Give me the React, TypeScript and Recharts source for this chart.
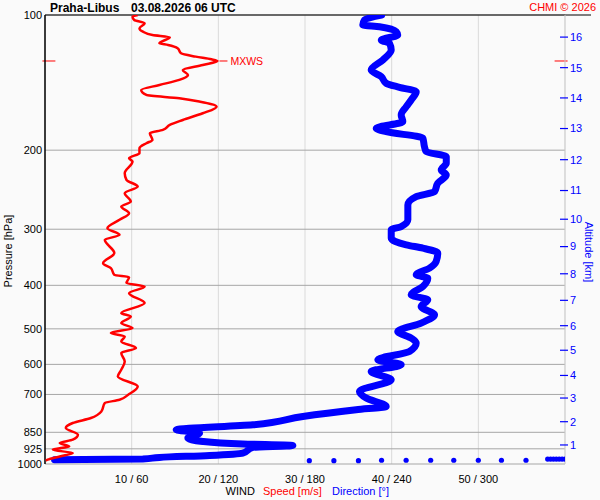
import React from 'react'
import { ScatterChart, Scatter, XAxis, YAxis, CartesianGrid, ReferenceLine } from 'recharts'

// pressure axis (hPa)
const pressureTicks = [100, 200, 300, 400, 500, 600, 700, 850, 925, 1000]
// bottom axis: speed m/s / direction deg
const speedTicks = [10, 20, 30, 40, 50]
const speedTickLabels = ['10 / 60', '20 / 120', '30 / 180', '40 / 240', '50 / 300']
// right axis: altitude ticks and the pressure level where each one sits
const altitudeKm = [1, 2, 3, 4, 5, 6, 7, 8, 9, 10, 11, 12, 13, 14, 15, 16]
const altitudeLevels = [907, 805, 713, 635, 558, 492, 432, 377, 328, 285, 246, 210, 179, 153, 131, 112]

// wind speed profile
const speedLevels = [
  100, 100.9, 102.6, 104.3, 107.1, 108.9, 110.8, 112.1, 115.6, 116.6,
  118.6, 121.7, 123.8, 125.5, 126.6, 129.2, 132.6, 136.0, 139.5, 143.2,
  146.9, 150.7, 153.3, 155.9, 160.0, 165.5, 171.3, 175.7, 180.3, 183.4,
  189.8, 193.0, 198.0, 203.1, 208.4, 212.1, 225.1, 232.9, 241.1, 249.4,
  260.3, 267.1, 276.3, 285.9, 298.4, 308.8, 316.8, 339.1, 357.0, 366.3,
  379.0, 383.6, 395.5, 402.5, 416.4, 438.2, 461.3, 469.4, 485.5, 498.1,
  511.1, 520.0, 533.5, 551.9, 566.2, 591.1, 616.8, 638.4, 671.9, 701.1,
  719.3, 731.6, 763.8, 790.0, 810.5, 831.6, 860.6, 882.9, 898.0, 913.8,
  929.4, 945.3, 961.9, 978.3, 983.3,
]
const speedMs = [
  10.7, 10.1, 10.3, 11.5, 10.9, 11.3, 12.4, 14.4, 13.2, 14.2,
  15.3, 15.7, 17.4, 19.2, 19.9, 18.2, 15.9, 16.5, 15.5, 13.2,
  11.1, 11.7, 15.5, 17.8, 19.8, 18.2, 15.9, 14.4, 13.6, 12.1,
  12.4, 11.7, 10.9, 10.9, 9.7, 10.1, 9.2, 9.4, 10.7, 9.2,
  9.9, 8.8, 9.7, 8.6, 7.2, 8.6, 6.9, 8.0, 6.7, 7.6,
  8.0, 9.7, 9.4, 11.5, 9.7, 11.5, 8.8, 9.9, 8.8, 10.1,
  7.6, 9.2, 8.8, 10.5, 8.8, 9.2, 8.8, 8.4, 10.7, 9.6,
  8.6, 6.9, 6.5, 5.3, 3.2, 2.4, 3.8, 3.2, 1.7, 2.8,
  0.9, 3.2, 1.7, 0.3, 0.1,
]

// wind direction profile
const dirLevels = [
  100, 102.6, 105.3, 106.2, 108.9, 110.8, 113.7, 115.6, 119.7, 125.9,
  132.6, 137.2, 141.9, 144.9, 148.2, 154.6, 160.0, 166.9, 172.8, 178.7,
  181.9, 188.1, 196.4, 201.5, 206.7, 213.8, 221.3, 227.1, 236.9, 247.3,
  253.8, 264.8, 285.9, 295.9, 301.0, 314.1, 325.0, 330.6, 339.1, 354.1,
  366.3, 379.0, 385.5, 402.5, 420.0, 430.9, 445.9, 465.3, 485.5, 506.9,
  524.3, 537.9, 561.6, 586.0, 601.2, 622.2, 649.2, 689.3, 713.1, 744.4,
  757.1, 783.6, 817.7, 838.9, 853.2, 875.3, 890.7, 902.7, 909.1, 918.5,
  945.3, 957.0, 966.8, 974.8, 978.3,
]
const dirDeg = [
  233.0, 221.2, 220.0, 231.6, 243.1, 244.2, 232.8, 238.5, 239.7, 233.9,
  225.8, 232.8, 236.2, 245.4, 257.0, 253.5, 250.1, 246.6, 247.7, 229.3,
  236.2, 261.6, 262.7, 263.9, 277.8, 277.8, 274.3, 277.8, 271.9, 269.7,
  257.0, 251.2, 251.2, 246.6, 239.7, 239.7, 250.1, 261.6, 271.9, 270.8,
  266.2, 257.0, 265.0, 261.6, 253.5, 265.0, 260.4, 269.7, 260.4, 244.2,
  253.5, 257.0, 252.3, 230.4, 246.6, 225.8, 239.7, 217.7, 222.4, 236.2,
  215.4, 178.5, 143.9, 90.8, 107.0, 98.9, 109.2, 136.9, 171.6, 143.9,
  136.9, 113.9, 79.3, 67.7, 6.6,
]

// dotted direction points near the ground
const surfaceDotDeg = [183, 200, 217, 233, 250, 267, 283, 300, 316, 333, 348, 350, 352, 354, 356, 358, 360]
const surfaceDotLevel = [983, 983, 983, 981, 981, 981, 981, 981, 981, 981, 975, 975, 975, 975, 975, 975, 975]

const RED = '#ff0000'
const BLUE = '#0000ff'

const noDot = () => <g />

const SpeedTick = ({ x, y, payload }: any) => (
  <text x={x} y={y + 11} dy="0.71em" fill="#000" fontSize={11} textAnchor="middle">
    {speedTickLabels[speedTicks.indexOf(payload.value)]}
  </text>
)

const AltTick = ({ x, y, payload }: any) => (
  <g>
    <line x1={x - 5} x2={x + 3} y1={y} y2={y} stroke={BLUE} strokeWidth={1.2} />
    <text x={x + 5} y={y} dy="0.35em" fill={BLUE} fontSize={11}>
      {altitudeKm[altitudeLevels.indexOf(payload.value)]}
    </text>
  </g>
)

const MaxMark = ({ cx, cy }: any) => (
  <g>
    <line x1={cx + 2} x2={cx + 10} y1={cy} y2={cy} stroke={RED} strokeWidth={1} />
    <text x={cx + 13} y={cy} dy="0.35em" fill={RED} fontSize={10.5}>MXWS</text>
  </g>
)

export default function App() {
  const speedData = speedLevels.map((p, i) => ({ x: speedMs[i], y: p }))
  const dirData = dirLevels.map((p, i) => ({ x: dirDeg[i], y: p }))
  const dotData = surfaceDotDeg.map((d, i) => ({ x: d, y: surfaceDotLevel[i] }))

  let maxI = 0
  speedMs.forEach((v, i) => {
    if (v > speedMs[maxI]) maxI = i
  })
  const maxP = speedLevels[maxI]
  const maxData = [{ x: speedMs[maxI], y: maxP }]

  return (
    <div
      style={{
        position: 'absolute',
        left: 0,
        top: 0,
        width: 600,
        height: 500,
        background: '#fafafa',
        fontFamily: '"Liberation Sans", Arial, sans-serif',
      }}
    >
      <ScatterChart width={600} height={500} margin={{ top: 15, right: 0, bottom: 0, left: 0 }}>
        <CartesianGrid xAxisId="spd" yAxisId="p" horizontal={false} stroke="#dadada" />
        <CartesianGrid xAxisId="spd" yAxisId="p" vertical={false} stroke="#a6a6a6" />
        <XAxis
          xAxisId="spd"
          type="number"
          dataKey="x"
          domain={[0, 60]}
          ticks={speedTicks}
          interval={0}
          axisLine={false}
          tickLine={false}
          tickSize={0}
          tickMargin={0}
          height={36}
          tick={<SpeedTick />}
          allowDataOverflow
        />
        <XAxis
          xAxisId="dir"
          orientation="top"
          type="number"
          dataKey="x"
          domain={[0, 360]}
          height={0}
          hide
          allowDataOverflow
        />
        <YAxis
          yAxisId="p"
          type="number"
          dataKey="y"
          scale="log"
          domain={[100, 1000]}
          reversed
          ticks={pressureTicks}
          interval={0}
          width={45}
          axisLine={{ stroke: '#000', strokeWidth: 1.5 }}
          tickLine={false}
          tickSize={0}
          tickMargin={3}
          tick={{ fill: '#000', fontSize: 11 }}
          allowDataOverflow
        />
        <YAxis
          yAxisId="alt"
          orientation="right"
          type="number"
          dataKey="y"
          scale="log"
          domain={[100, 1000]}
          reversed
          ticks={altitudeLevels}
          interval={0}
          width={35}
          axisLine={{ stroke: '#cfcfcf' }}
          tickLine={false}
          tickSize={0}
          tickMargin={0}
          tick={<AltTick />}
          allowDataOverflow
        />

        <ReferenceLine
          xAxisId="spd"
          yAxisId="p"
          segment={[{ x: 0, y: 100 }, { x: 63, y: 100 }]}
          stroke="#000"
          strokeWidth={1.2}
          ifOverflow="visible"
        />
        <ReferenceLine
          xAxisId="spd"
          yAxisId="p"
          segment={[{ x: -0.3, y: maxP }, { x: 1.2, y: maxP }]}
          stroke={RED}
          ifOverflow="visible"
        />
        <ReferenceLine
          xAxisId="spd"
          yAxisId="p"
          segment={[{ x: 58.8, y: maxP }, { x: 60.3, y: maxP }]}
          stroke={RED}
          ifOverflow="visible"
        />

        <Scatter
          xAxisId="dir"
          yAxisId="p"
          data={dirData}
          fill={BLUE}
          line={{ stroke: BLUE, strokeWidth: 7, strokeLinejoin: 'round', strokeLinecap: 'round' }}
          lineType="joint"
          lineJointType="monotoneY"
          shape={noDot}
          isAnimationActive={false}
        />
        <Scatter
          xAxisId="dir"
          yAxisId="p"
          data={dotData}
          fill={BLUE}
          shape={(p: any) => <circle cx={p.cx} cy={p.cy} r={2.6} fill={BLUE} />}
          isAnimationActive={false}
        />
        <Scatter
          xAxisId="spd"
          yAxisId="p"
          data={speedData}
          fill={RED}
          line={{ stroke: RED, strokeWidth: 2.5, strokeLinejoin: 'round' }}
          lineType="joint"
          lineJointType="monotoneY"
          shape={noDot}
          isAnimationActive={false}
        />
        <Scatter
          xAxisId="spd"
          yAxisId="p"
          data={maxData}
          fill={RED}
          shape={<MaxMark />}
          isAnimationActive={false}
        />
      </ScatterChart>

      <svg
        width={600}
        height={500}
        style={{ position: 'absolute', left: 0, top: 0, pointerEvents: 'none' }}
      >
        <text x={50} y={12} fontSize={12} fontWeight="bold" fill="#000">Praha-Libus</text>
        <text x={131} y={12} fontSize={12} fontWeight="bold" fill="#000">03.08.2026 06 UTC</text>
        <text x={596} y={11} fontSize={11} fill={RED} textAnchor="end">CHMI © 2026</text>
        <text transform="translate(12,251) rotate(-90)" fontSize={11} fill="#000" textAnchor="middle">
          Pressure [hPa]
        </text>
        <text transform="translate(585,252) rotate(90)" fontSize={11} fill={BLUE} textAnchor="middle">
          Altitude [km]
        </text>
        <text x={225.5} y={494.5} fontSize={11} fill="#000">WIND</text>
        <text x={263} y={494.5} fontSize={11} fill={RED}>Speed [m/s]</text>
        <text x={332} y={494.5} fontSize={11} fill={BLUE}>Direction [°]</text>
      </svg>
    </div>
  )
}
